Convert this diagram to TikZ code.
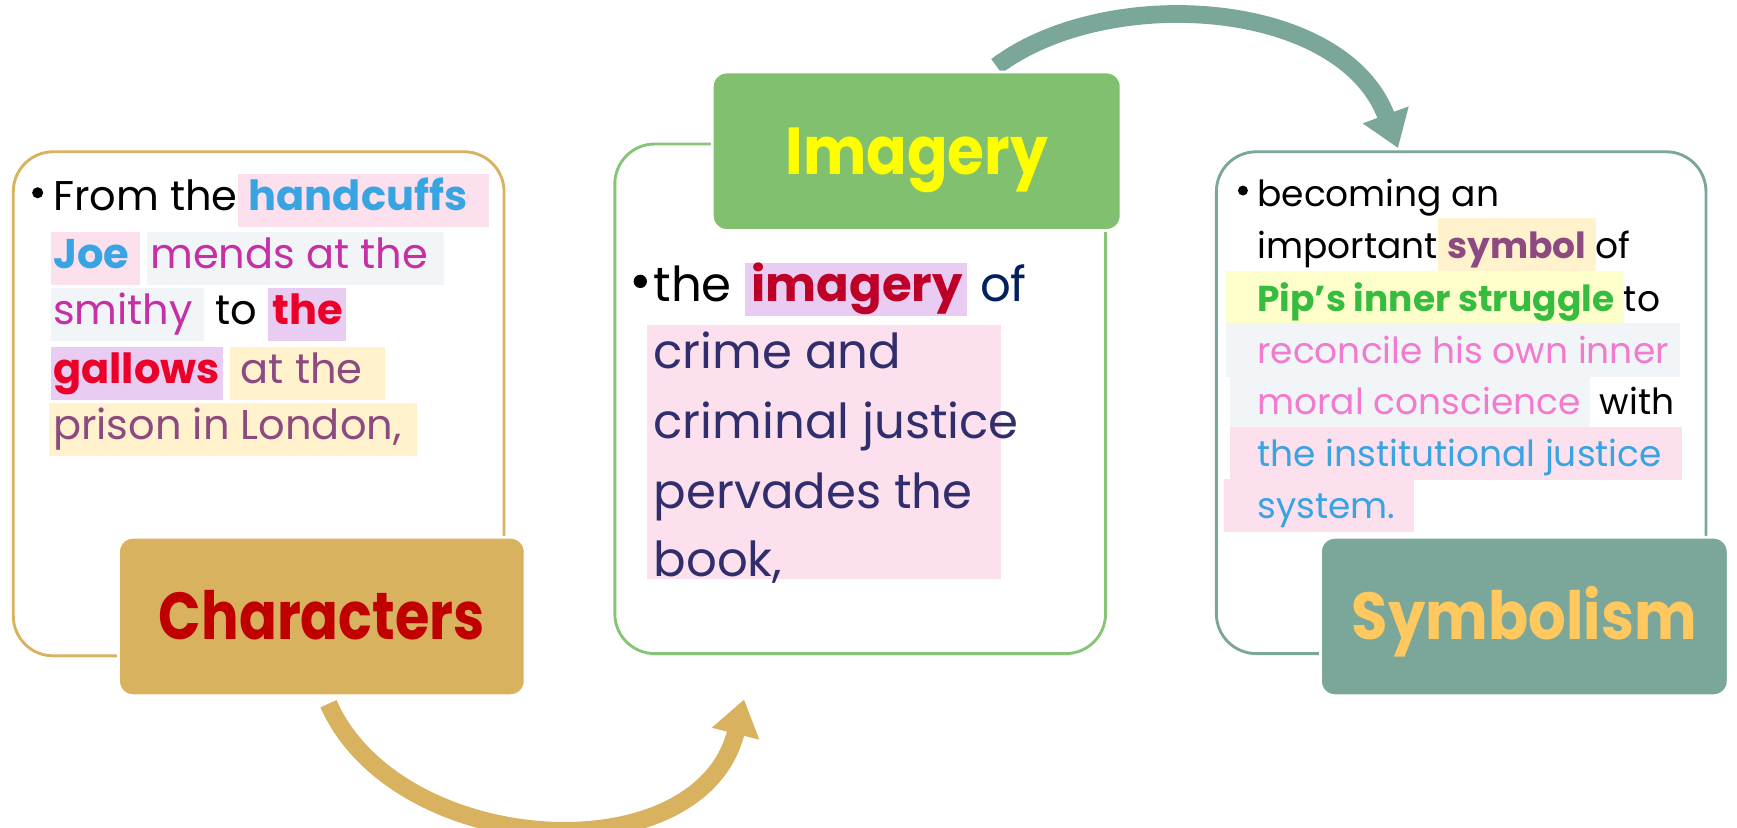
\documentclass[tikz,border=0pt]{standalone}
\usepackage{fontspec}
\usepackage{graphicx}
\setmainfont{Poppins}
\usetikzlibrary{arrows.meta,calc}

% panel colours
\definecolor{goldc}{HTML}{D8B25F}
\definecolor{greenc}{HTML}{81C06E}
\definecolor{greenline}{HTML}{86C476}
\definecolor{tealc}{HTML}{7BA79B}
% label text colours
\definecolor{charred}{HTML}{C00000}
\definecolor{imgyel}{HTML}{FFFF00}
\definecolor{symorange}{HTML}{FFC95F}
% highlight fills
\definecolor{hlpink}{HTML}{FDE0EE}
\definecolor{hlgray}{HTML}{F1F5F8}
\definecolor{hllav}{HTML}{E9CCF2}
\definecolor{hlcream}{HTML}{FFF2CC}
\definecolor{hlyel}{HTML}{FFFFCC}
% word colours
\definecolor{cblue}{HTML}{38A4E2}
\definecolor{cmag}{HTML}{C62FA5}
\definecolor{cred}{HTML}{EA0028}
\definecolor{cplum}{HTML}{8C4A80}
\definecolor{ccrim}{HTML}{BE0029}
\definecolor{cnavy}{HTML}{002060}
\definecolor{cpurp}{HTML}{302E6C}
\definecolor{cgreen}{HTML}{36BC3F}
\definecolor{cpink}{HTML}{F27ACF}

\newcommand\fsL{\fontsize{37.5}{46}\selectfont}
\newcommand\fsM{\fontsize{43.5}{56}\selectfont}
\newcommand\fsR{\fontsize{32.5}{42}\selectfont}
\newcommand\fsH{\fontsize{60}{70}\selectfont\bfseries}
\newcommand\wsp{\kern\fontdimen2\font}

\pgfdeclarelayer{bg}
\pgfsetlayers{bg,main}

\tikzset{
  seg/.style={anchor=base west, inner sep=0pt, outer sep=0pt},
  lseg/.style={seg, font=\fsL},
  mseg/.style={seg, font=\fsM, text=cpurp},
  rseg/.style={seg, font=\fsR},
  lhl/.style={lseg, text height=33pt, text depth=15pt},
  mhl/.style={mseg, text height=35pt, text depth=13pt},
  rhl/.style={rseg, text height=36pt, text depth=12pt},
  panel/.style={rounded corners=36pt, line width=2.6pt, inner sep=0pt},
  tag/.style={rounded corners=13pt, draw=white, line width=2.5pt,
    minimum width=367pt, minimum height=143pt, inner sep=0pt,
    font=\fsH, text height=42pt, text depth=0pt},
  dot/.style={circle, fill=black, inner sep=0pt, minimum size=10pt},
  bigarrow/.style={line width=16pt,
    -{Triangle[width=42pt,length=32pt]}},
}

\begin{document}
\begin{tikzpicture}[x=1pt,y=-1pt]
\useasboundingbox (0,0) rectangle (1568,747);

% ---------- outer panels ----------
\node[panel, draw=goldc, minimum width=443pt, minimum height=455pt] (leftbox) at (233.5,364.5) {};
\node[panel, draw=greenline, minimum width=443pt, minimum height=460pt] (midbox) at (776.5,360) {};
\node[panel, draw=tealc, minimum width=442pt, minimum height=453pt] (rightbox) at (1319,363.5) {};

% ---------- left panel text ----------
\node[dot] (lb) at (34,174) {};
\node[lseg] (l1a) at (48,190) {From the};
\node[lhl, fill=hlpink] (l1b) at (l1a.base east) {\wsp\textcolor{cblue}{\bfseries handcuffs}\kern20pt};

\node[lhl, fill=hlpink] (l2a) at (46,242) {\kern2pt\textcolor{cblue}{\bfseries Joe}\wsp};
\node[lhl, fill=hlgray] (l2b) at ([xshift=6pt]l2a.base east) {\kern3pt\textcolor{cmag}{mends at the}\wsp\kern4pt};

\node[lhl, fill=hlgray] (l3a) at (46,293) {\kern2pt\textcolor{cmag}{smithy}\wsp};
\node[lseg] (l3b) at (l3a.base east) {\wsp to\wsp};
\node[lhl, fill=hllav] (l3c) at (l3b.base east) {\kern4pt\textcolor{cred}{\bfseries the}\kern3pt};

\node[lhl, fill=hllav] (l4a) at (46,346) {\kern2pt\textcolor{cred}{\bfseries gallows}\kern3pt};
\node[lhl, fill=hlcream] (l4b) at ([xshift=6pt]l4a.base east) {\wsp\textcolor{cplum}{at the}\wsp\wsp};

\node[lhl, fill=hlcream] (l5a) at (44,397) {\kern4pt\textcolor{cplum}{prison in London,}\kern14pt};

% ---------- middle panel text ----------
\fill[hlpink] (584,293) rectangle (904,523);
\node[dot, minimum size=12pt] (mb) at (578,254) {};
\node[mseg, text=black] (m1a) at (590,272) {the\wsp};
\node[mhl, fill=hllav] (m1b) at (m1a.base east) {\kern6pt\textcolor{ccrim}{\bfseries imagery}\kern4pt};
\node[mseg, text=cnavy] (m1c) at (m1b.base east) {\wsp of};
\node[mseg] (m2) at (590,333) {crime and};
\node[mseg] (m3) at (590,396) {criminal justice};
\node[mseg] (m4) at (590,459) {pervades the};
\node[mseg] (m5) at (590,520) {book,};

% ---------- right panel text ----------
\node[dot, minimum size=9pt] (rb) at (1122,172) {};
\node[rseg] (r1) at (1135,186) {becoming an};
\node[rseg] (r2a) at (1135,233) {important};
\node[rhl, fill=hlcream] (r2b) at (r2a.base east) {\wsp\textcolor{cplum}{\bfseries symbol}\wsp};
\node[rseg] (r2c) at (r2b.base east) {of};
\node[rhl, fill=hlyel] (r3a) at (1107,281) {\kern28pt\textcolor{cgreen}{\bfseries Pip’s inner struggle}\wsp};
\node[rseg] (r3b) at (r3a.base east) {to};
\node[rhl, fill=hlgray] (r4) at (1107,328) {\kern28pt\textcolor{cpink}{reconcile his own inner}\kern10pt};
\node[rhl, fill=hlgray] (r5a) at (1110,374) {\kern25pt\textcolor{cpink}{moral conscience}\wsp};
\node[rseg] (r5b) at (r5a.base east) {\wsp with};
\node[rhl, fill=hlpink] (r6) at (1110,421) {\kern25pt\textcolor{cblue}{the institutional justice}\kern18pt};
\node[rhl, fill=hlpink] (r7) at (1105,468) {\kern30pt\textcolor{cblue}{system.}\kern17pt};

% ---------- heading tags ----------
\node[tag, fill=goldc, text=charred] (charlbl) at (290.5,556.5) {\scalebox{0.84}[1]{Characters}};
\node[tag, fill=greenc, text=imgyel, minimum width=369pt] (imglbl) at (827.5,136.5) {\scalebox{0.9}[1]{Imagery}};
\node[tag, fill=tealc, text=symorange, minimum width=368pt] (symlbl) at (1376,556.5) {\scalebox{0.89}[1]{Symbolism}};

% ---------- curved arrows ----------
\coordinate (gstart) at ($(charlbl.south)+(6,6)$);
\coordinate (gtip) at ($(midbox.south west)+(118,40)$);
\coordinate (tstart) at ($(imglbl.north)+(72,-4)$);
\coordinate (ttip) at ($(rightbox.north)+(-57,-2)$);
\begin{pgfonlayer}{bg}
\draw[bigarrow, goldc] (gstart) .. controls ($(gstart)+(62,140)$) and ($(gtip)+(-40,160)$) .. (gtip);
\draw[bigarrow, tealc] (tstart) .. controls ($(tstart)+(100,-75)$) and ($(ttip)+(-50,-135)$) .. (ttip);
\end{pgfonlayer}
\end{tikzpicture}
\end{document}
